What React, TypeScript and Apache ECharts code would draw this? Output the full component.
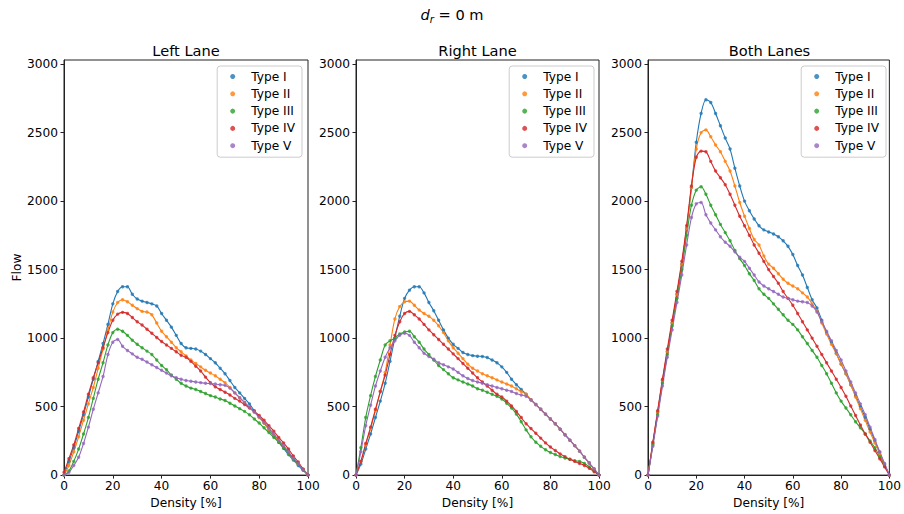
import React, { useEffect, useRef } from 'react';
import * as echarts from 'echarts';

const DENSITY = [0,2,4,6,8,10,12,14,16,18,20,22,24,26,28,30,32,34,36,38,40,42,44,46,48,50,52,54,56,58,60,62,64,66,68,70,72,74,76,78,80,82,84,86,88,90,92,94,96,98,100];
const TYPES = ['Type I', 'Type II', 'Type III', 'Type IV', 'Type V'];
const COLORS = ['#1f77b4', '#ff7f0e', '#2ca02c', '#d62728', '#9467bd'];
const PANEL_TITLES = ['Left Lane', 'Right Lane', 'Both Lanes'];
const Y_TICKS = [0, 500, 1000, 1500, 2000, 2500, 3000];
const X_TICKS = [0, 20, 40, 60, 80, 100];

// Left lane
const LEFT_I = [0,100,200,320,440,570,700,830,960,1100,1250,1340,1375,1375,1320,1285,1270,1260,1250,1235,1180,1130,1080,1020,960,930,925,920,905,880,850,820,780,740,690,640,600,560,520,470,425,380,330,285,240,195,150,110,70,35,0];
const LEFT_II = [0,70,170,280,400,520,640,780,920,1060,1190,1260,1280,1265,1240,1215,1195,1190,1170,1110,1050,1010,970,930,900,870,840,815,790,765,745,725,700,675,640,600,565,530,495,460,420,380,335,290,245,205,160,120,80,40,0];
const LEFT_III = [0,30,100,190,300,420,560,700,820,950,1040,1065,1050,1020,985,955,930,905,880,840,800,770,730,700,670,650,635,625,610,595,580,570,555,545,525,505,485,465,440,410,380,345,310,275,240,200,160,120,80,40,0];
const LEFT_IV = [20,120,220,340,460,590,710,820,930,1040,1130,1175,1188,1180,1150,1120,1095,1065,1035,1005,975,950,925,900,875,860,830,795,760,715,675,645,625,605,585,560,540,515,490,465,435,400,360,320,275,235,190,140,95,45,0];
const LEFT_V = [0,20,70,130,230,350,480,600,720,880,970,990,940,910,885,860,845,825,805,785,765,745,725,710,700,690,685,680,675,670,668,665,660,655,635,600,565,530,495,460,425,385,345,300,255,215,170,125,85,40,0];

// Right lane
const RIGHT_I = [0,80,190,300,420,540,670,830,1000,1160,1290,1350,1375,1375,1330,1260,1200,1130,1060,1000,955,925,895,880,872,868,866,858,840,820,790,750,700,660,625,590,550,515,480,445,410,375,335,295,255,215,175,130,88,44,0];
const RIGHT_II = [0,100,220,340,470,610,750,950,1140,1230,1265,1270,1240,1205,1180,1160,1130,1090,1040,980,930,890,850,810,780,760,740,725,710,695,680,665,650,630,610,590,550,515,480,445,410,375,335,295,255,215,175,130,88,44,0];
const RIGHT_III = [0,200,420,580,720,840,950,980,1000,1030,1045,1050,1010,970,920,880,840,800,770,740,710,695,680,665,650,630,620,605,590,575,555,525,490,445,390,330,280,240,210,185,165,150,135,125,115,105,100,85,60,30,0];
const RIGHT_IV = [0,100,230,350,480,610,730,880,1020,1120,1180,1195,1170,1140,1100,1060,1025,990,955,920,885,850,815,780,745,710,680,650,620,590,570,540,505,465,420,375,340,305,270,235,205,180,155,135,115,100,85,70,50,25,0];
const RIGHT_V = [0,170,360,510,650,760,860,930,980,1020,1035,1020,970,930,890,865,845,820,805,790,775,750,725,705,690,680,670,660,650,640,630,620,610,595,585,575,548,515,480,445,410,375,335,295,255,215,175,130,88,44,0];

// Both lanes
const BOTH_I = [0,230,460,690,900,1110,1320,1540,1800,2100,2430,2640,2740,2720,2640,2550,2460,2380,2240,2110,2000,1930,1870,1820,1790,1775,1760,1740,1710,1670,1610,1530,1460,1370,1280,1220,1130,1040,970,890,810,740,660,580,500,420,335,250,165,80,0];
const BOTH_II = [0,230,460,690,900,1110,1320,1540,1800,2100,2380,2500,2520,2470,2410,2360,2290,2220,2110,1990,1890,1800,1720,1680,1600,1540,1510,1470,1430,1400,1380,1360,1330,1300,1250,1200,1110,1030,955,885,810,740,660,570,485,400,315,235,155,75,0];
const BOTH_III = [0,220,440,670,880,1090,1290,1500,1750,1970,2080,2105,2050,1970,1900,1830,1770,1710,1640,1580,1530,1470,1420,1360,1320,1290,1250,1210,1170,1130,1100,1060,1010,960,910,860,800,740,670,600,540,490,440,390,345,300,250,200,135,70,0];
const BOTH_IV = [0,240,470,700,920,1130,1340,1560,1820,2110,2320,2365,2360,2290,2220,2170,2120,2050,1970,1890,1820,1750,1680,1620,1560,1500,1450,1400,1340,1290,1240,1180,1120,1060,1000,940,880,820,760,700,640,575,505,435,365,300,240,180,120,60,0];
const BOTH_V = [0,210,430,650,860,1060,1260,1460,1680,1880,1980,1990,1900,1840,1790,1740,1700,1670,1630,1590,1560,1510,1460,1410,1380,1360,1340,1320,1300,1290,1280,1270,1265,1260,1235,1190,1120,1050,980,910,840,760,680,600,520,440,350,260,170,85,0];

const PANELS = [
  [LEFT_I, LEFT_II, LEFT_III, LEFT_IV, LEFT_V],
  [RIGHT_I, RIGHT_II, RIGHT_III, RIGHT_IV, RIGHT_V],
  [BOTH_I, BOTH_II, BOTH_III, BOTH_IV, BOTH_V],
];

const FONT = 'DejaVu Sans';
const GRID_LEFT = [64, 356, 648];
const GRID_WIDTH = [244, 243, 243];
const LEGEND_RIGHT = [602, 310, 18];
const FS = 12.2;
const TFS = 14.6;

export default function App() {
  const ref = useRef<HTMLDivElement>(null);
  useEffect(() => {
    document.body.style.margin = '0';
    if (!ref.current) return;
    const chart = echarts.init(ref.current, undefined, { renderer: 'svg' });
    const axisColor = '#222';
    const grids = PANELS.map((_, p) => ({
      left: GRID_LEFT[p],
      width: GRID_WIDTH[p],
      top: 60,
      height: 419,
      show: true,
      borderColor: axisColor,
      borderWidth: 1,
      backgroundColor: 'transparent',
    }));
    const xAxes = PANELS.map((_, p) => ({
      type: 'value',
      gridIndex: p,
      min: 0,
      max: 100,
      interval: 20,
      name: 'Density [%]',
      nameLocation: 'middle',
      nameGap: 18,
      nameTextStyle: { fontSize: FS, color: '#000', fontFamily: FONT },
      axisLine: { show: true, onZero: false, lineStyle: { color: axisColor, width: 1 } },
      axisTick: { show: true, length: 3.5, lineStyle: { color: axisColor }, customValues: X_TICKS },
      axisLabel: { fontSize: FS, color: '#000', margin: 5, fontFamily: FONT, customValues: X_TICKS, formatter: (v: number) => String(v) },
      splitLine: { show: false },
    }));
    const yAxes = PANELS.map((_, p) => ({
      type: 'value',
      gridIndex: p,
      min: 0,
      max: 3030,
      name: p === 0 ? 'Flow' : '',
      nameLocation: 'middle',
      nameGap: 38,
      nameTextStyle: { fontSize: FS, color: '#000', fontFamily: FONT },
      axisLine: { show: true, lineStyle: { color: axisColor, width: 1 } },
      axisTick: { show: true, length: 3.5, lineStyle: { color: axisColor }, customValues: Y_TICKS },
      axisLabel: { fontSize: FS, color: '#000', margin: 6, fontFamily: FONT, customValues: Y_TICKS, formatter: (v: number) => String(v) },
      splitLine: { show: false },
    }));
    const series: any[] = [];
    PANELS.forEach((panel, p) => {
      panel.forEach((vals, t) => {
        const data = DENSITY.map((d, i) => [d, vals[i]]);
        series.push({
          type: 'scatter',
          name: TYPES[t],
          xAxisIndex: p,
          yAxisIndex: p,
          data,
          symbol: 'circle',
          symbolSize: 3.4,
          itemStyle: { color: COLORS[t] },
          z: 3,
        });
        series.push({
          type: 'line',
          name: TYPES[t],
          xAxisIndex: p,
          yAxisIndex: p,
          data,
          smooth: 0.3,
          showSymbol: false,
          symbol: 'none',
          lineStyle: { color: COLORS[t], width: 1.1 },
          itemStyle: { color: COLORS[t] },
          z: 3,
        });
      });
    });
    const legends = PANELS.map((_, p) => ({
      data: TYPES.map((n) => ({ name: n, icon: 'circle' })),
      orient: 'vertical',
      right: LEGEND_RIGHT[p],
      top: 66,
      itemWidth: 5,
      itemHeight: 5,
      itemGap: 4.3,
      padding: [4, 7, 5, 13],
      borderColor: '#cccccc',
      borderWidth: 1,
      borderRadius: 3,
      backgroundColor: 'rgba(255,255,255,0.8)',
      textStyle: { fontSize: FS, lineHeight: 13, color: '#000', fontFamily: FONT, padding: [0, 0, 0, 11] },
      selectedMode: false,
    }));
    const titles: any[] = [
      {
        text: '{i|d}{s|r}{n| = 0 m}',
        left: 452,
        top: 4,
        padding: 0,
        textAlign: 'center',
        textStyle: {
          fontWeight: 'normal',
          rich: {
            i: { fontStyle: 'italic', fontWeight: 'normal', fontSize: TFS, lineHeight: 20, color: '#000', fontFamily: FONT, verticalAlign: 'middle' },
            s: { fontStyle: 'italic', fontWeight: 'normal', fontSize: 10.2, lineHeight: 9, color: '#000', fontFamily: FONT, verticalAlign: 'bottom' },
            n: { fontWeight: 'normal', fontSize: TFS, lineHeight: 20, color: '#000', fontFamily: FONT, verticalAlign: 'middle' },
          },
        },
      },
      ...PANEL_TITLES.map((t, p) => ({
        text: t,
        left: GRID_LEFT[p] + GRID_WIDTH[p] / 2,
        top: 43,
        padding: 0,
        textAlign: 'center',
        textStyle: { fontSize: TFS, fontWeight: 'normal', color: '#000', fontFamily: FONT },
      })),
    ];
    chart.setOption({
      animation: false,
      backgroundColor: '#fff',
      textStyle: { fontFamily: FONT },
      title: titles,
      legend: legends,
      grid: grids,
      xAxis: xAxes,
      yAxis: yAxes,
      series,
    });
    return () => chart.dispose();
  }, []);
  return <div ref={ref} style={{ width: 904, height: 514 }} />;
}
